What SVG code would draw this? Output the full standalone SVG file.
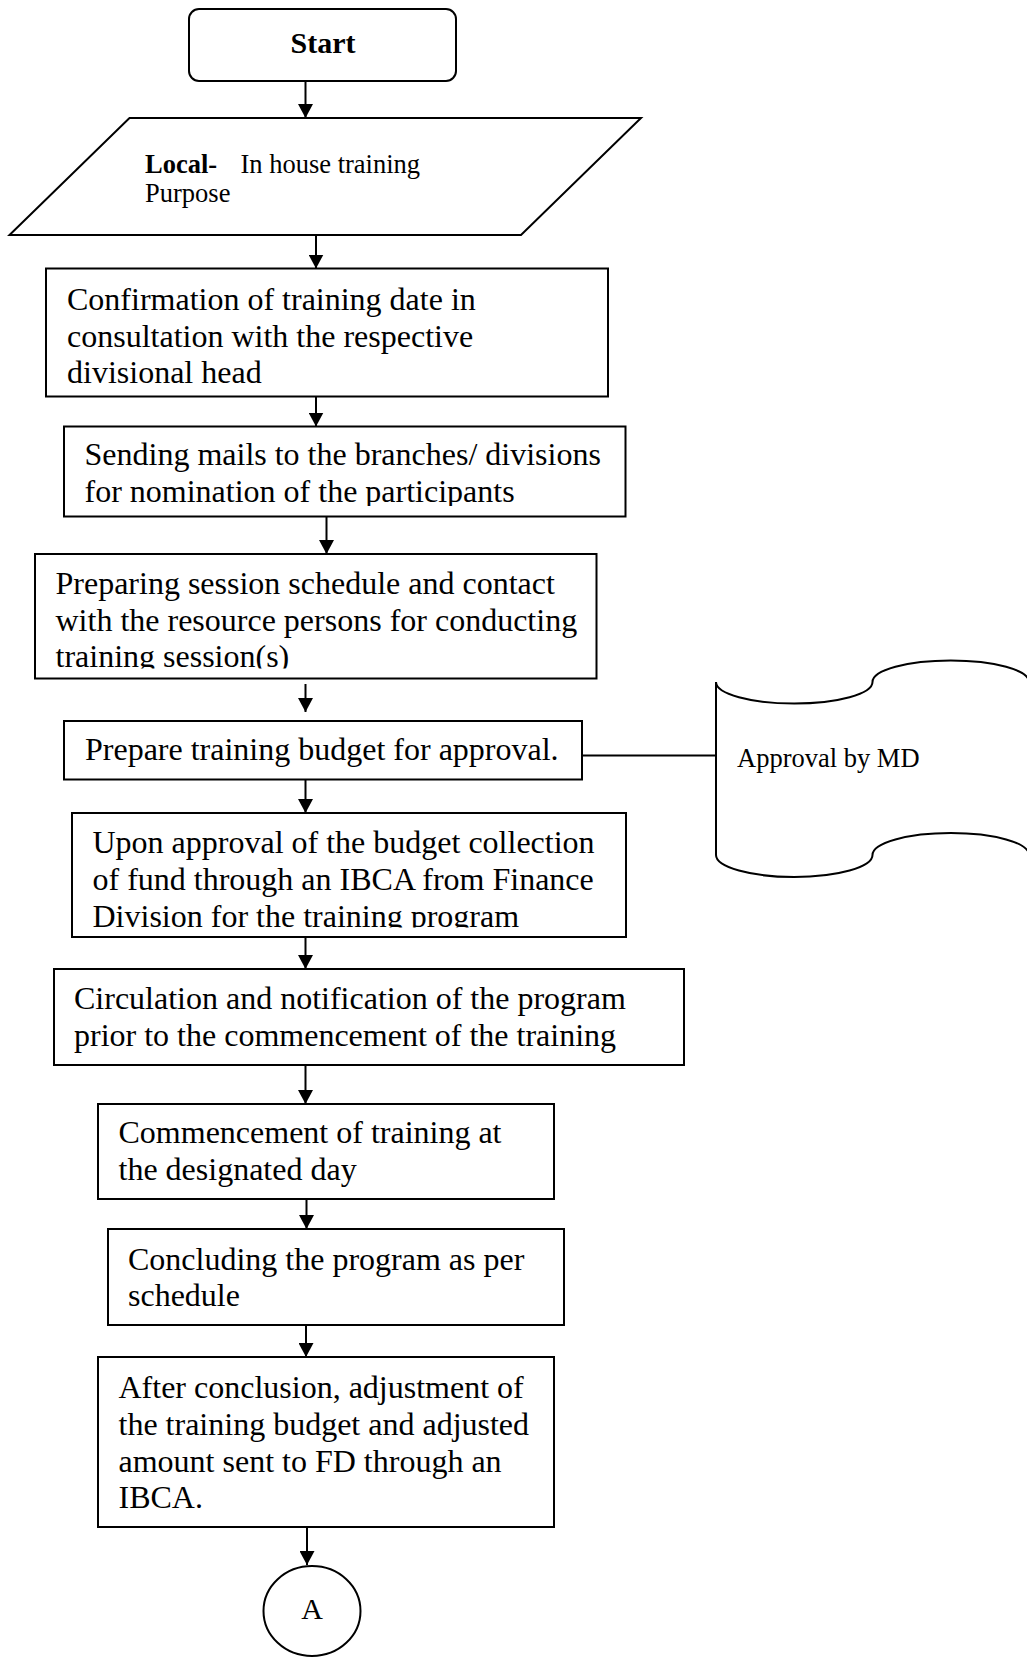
<svg xmlns="http://www.w3.org/2000/svg" width="1027" height="1659" viewBox="0 0 1027 1659">
  <style>
    .box { fill: #fff; stroke: #000; stroke-width: 2; }
    .ln { fill: none; stroke: #000; stroke-width: 2; }
    .t { font-family: "Liberation Serif", "Times New Roman", serif; font-size: 32px; fill: #000; }
    .s { font-family: "Liberation Serif", "Times New Roman", serif; font-size: 26.5px; fill: #000; }
    .b { font-weight: bold; }
  </style>
  <defs>
    <marker id="arrow" markerUnits="userSpaceOnUse" markerWidth="15" markerHeight="15" refX="14" refY="7.5" orient="auto">
      <path d="M0,0 L14,7.5 L0,15 Z" fill="#000"/>
    </marker>
    <!-- text areas that cut off the last line of a few boxes -->
    <clipPath id="clipMails"><rect x="60" y="420" width="570" height="86"/></clipPath>
    <clipPath id="clipSession"><rect x="30" y="550" width="570" height="118.5"/></clipPath>
    <clipPath id="clipFund"><rect x="70" y="810" width="560" height="117.5"/></clipPath>
  </defs>

  <!-- connectors -->
  <g id="connectors">
    <line class="ln" x1="305.5" y1="81" x2="305.5" y2="118" marker-end="url(#arrow)"/>
    <line class="ln" x1="316" y1="235" x2="316" y2="268.5" marker-end="url(#arrow)"/>
    <line class="ln" x1="316" y1="396.5" x2="316" y2="426.5" marker-end="url(#arrow)"/>
    <line class="ln" x1="326.5" y1="516.5" x2="326.5" y2="554" marker-end="url(#arrow)"/>
    <line class="ln" x1="305.5" y1="684" x2="305.5" y2="712" marker-end="url(#arrow)"/>
    <line class="ln" x1="582" y1="755.5" x2="716" y2="755.5"/>
    <line class="ln" x1="305.5" y1="779.5" x2="305.5" y2="813" marker-end="url(#arrow)"/>
    <line class="ln" x1="305.5" y1="937" x2="305.5" y2="969" marker-end="url(#arrow)"/>
    <line class="ln" x1="305.5" y1="1065" x2="305.5" y2="1104" marker-end="url(#arrow)"/>
    <line class="ln" x1="306.5" y1="1199" x2="306.5" y2="1229" marker-end="url(#arrow)"/>
    <line class="ln" x1="306" y1="1325" x2="306" y2="1357" marker-end="url(#arrow)"/>
    <line class="ln" x1="307" y1="1527" x2="307" y2="1565" marker-end="url(#arrow)"/>
  </g>

  <!-- start terminator -->
  <g id="start">
    <rect class="box" x="189" y="9" width="267" height="72" rx="10" ry="10"/>
    <text class="t b" x="323" y="52.5" text-anchor="middle" style="font-size:30px">Start</text>
  </g>

  <!-- input: training type -->
  <g id="input-local">
    <polygon class="box" points="129.5,118 641,118 521,235 9.5,235"/>
    <text class="s b" x="145" y="172.5">Local-</text>
    <text class="s" x="240.5" y="172.5">In house training</text>
    <text class="s" x="145" y="201.5">Purpose</text>
  </g>

  <g id="confirm-date">
    <rect class="box" x="46" y="268.5" width="562" height="128"/>
    <text class="t" x="67" y="310">Confirmation of training date in</text>
    <text class="t" x="67" y="346.7">consultation with the respective</text>
    <text class="t" x="67" y="383.3">divisional head</text>
  </g>

  <g id="send-mails">
    <rect class="box" x="64" y="426.5" width="561.5" height="90"/>
    <g clip-path="url(#clipMails)">
      <text class="t" x="84.5" y="465">Sending mails to the branches/ divisions</text>
      <text class="t" x="84.5" y="502">for nomination of the participants</text>
    </g>
  </g>

  <g id="session-schedule">
    <rect class="box" x="35" y="554" width="561.5" height="124.5"/>
    <g clip-path="url(#clipSession)">
      <text class="t" x="55.5" y="594">Preparing session schedule and contact</text>
      <text class="t" x="55.5" y="630.5">with the resource persons for conducting</text>
      <text class="t" x="55.5" y="667">training session(s)</text>
    </g>
  </g>

  <g id="budget">
    <rect class="box" x="64" y="721" width="518" height="58.5"/>
    <text class="t" x="85" y="760">Prepare training budget for approval.</text>
  </g>

  <!-- approval document (punched tape), running past the right edge -->
  <g id="approval-md">
    <path class="box" d="M716,682 A78.25,21.5 0 0 0 872.5,682 A78.25,21.5 0 0 1 1029,682 L1029,855 A78.25,22 0 0 0 872.5,855 A78.25,22 0 0 1 716,855 Z"/>
    <text class="s" x="737" y="767">Approval by MD</text>
  </g>

  <g id="fund-collection">
    <rect class="box" x="72" y="813" width="554" height="124"/>
    <g clip-path="url(#clipFund)">
      <text class="t" x="92.5" y="853.3">Upon approval of the budget collection</text>
      <text class="t" x="92.5" y="890">of fund through an IBCA from Finance</text>
      <text class="t" x="92.5" y="927">Division for the training program</text>
    </g>
  </g>

  <g id="circulation">
    <rect class="box" x="54" y="969" width="630" height="96"/>
    <text class="t" x="74" y="1009">Circulation and notification of the program</text>
    <text class="t" x="74" y="1046">prior to the commencement of the training</text>
  </g>

  <g id="commencement">
    <rect class="box" x="98" y="1104" width="456" height="95"/>
    <text class="t" x="118.5" y="1143.3">Commencement of training at</text>
    <text class="t" x="118.5" y="1180">the designated day</text>
  </g>

  <g id="concluding">
    <rect class="box" x="108" y="1229" width="456" height="96"/>
    <text class="t" x="128" y="1269.5">Concluding the program as per</text>
    <text class="t" x="128" y="1305.5">schedule</text>
  </g>

  <g id="adjustment">
    <rect class="box" x="98" y="1357" width="456" height="170"/>
    <text class="t" x="118.5" y="1398.3">After conclusion, adjustment of</text>
    <text class="t" x="118.5" y="1435">the training budget and adjusted</text>
    <text class="t" x="118.5" y="1471.7">amount sent to FD through an</text>
    <text class="t" x="118.5" y="1508.3">IBCA.</text>
  </g>

  <!-- off-page connector -->
  <g id="connector-a">
    <ellipse class="box" cx="312" cy="1611" rx="48.5" ry="45"/>
    <text class="s" x="312" y="1619" text-anchor="middle" style="font-size:30px">A</text>
  </g>
</svg>
